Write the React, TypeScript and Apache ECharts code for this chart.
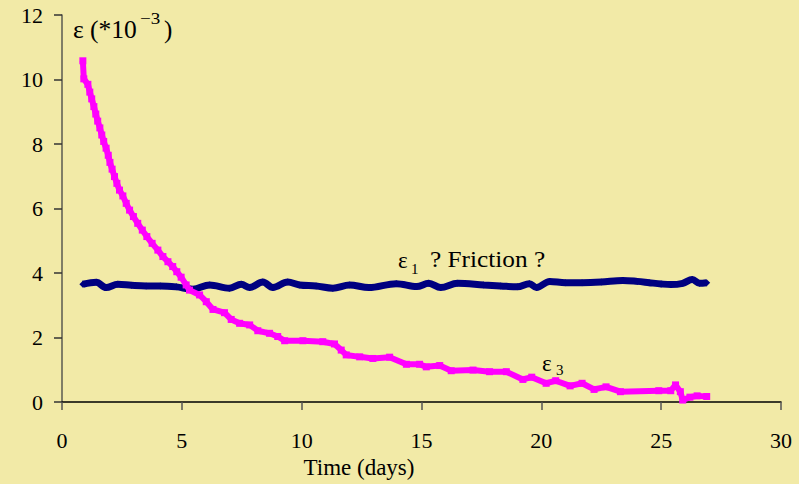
import React, { useEffect, useRef } from "react";
import * as echarts from "echarts";

// ε1 (friction) — time in days, strain ×10^-3
const eps1Days = [0.87, 1.43, 1.84, 2.33, 2.9, 3.51, 4.1, 4.77, 5.46, 6.16, 6.99, 7.48, 7.83, 8.38, 8.8, 9.42, 9.91, 10.6, 11.3, 12.0, 12.8, 13.95, 14.8, 15.3, 15.8, 16.5, 17.6, 18.3, 19.0, 19.5, 19.8, 20.35, 21.0, 21.7, 22.5, 23.4, 24.0, 24.5, 25.0, 25.4, 25.9, 26.3, 26.6, 26.9];
const eps1Values = [3.65, 3.71, 3.55, 3.65, 3.62, 3.6, 3.6, 3.57, 3.5, 3.63, 3.53, 3.65, 3.55, 3.72, 3.55, 3.72, 3.63, 3.6, 3.53, 3.63, 3.55, 3.67, 3.58, 3.68, 3.55, 3.68, 3.63, 3.6, 3.57, 3.67, 3.55, 3.74, 3.7, 3.7, 3.72, 3.77, 3.74, 3.7, 3.66, 3.64, 3.68, 3.8, 3.68, 3.7];

// ε3
const eps3Days = [0.87, 0.91, 1.08, 1.16, 1.24, 1.33, 1.41, 1.49, 1.58, 1.66, 1.74, 1.84, 1.93, 2.0, 2.09, 2.19, 2.29, 2.4, 2.54, 2.68, 2.82, 2.98, 3.16, 3.35, 3.54, 3.76, 4.0, 4.21, 4.42, 4.62, 4.79, 4.97, 5.18, 5.32, 5.74, 6.02, 6.3, 6.78, 7.06, 7.41, 7.83, 8.17, 8.66, 9.0, 9.29, 10.05, 10.88, 11.37, 11.65, 11.86, 12.42, 12.97, 13.67, 14.37, 14.92, 15.2, 15.76, 16.24, 17.15, 17.84, 18.54, 19.23, 19.6, 20.2, 20.6, 21.2, 21.7, 22.2, 22.7, 23.3, 24.9, 25.4, 25.6, 25.8, 25.9, 26.2, 26.5, 26.9];
const eps3Values = [10.58, 10.02, 9.85, 9.61, 9.4, 9.16, 8.93, 8.71, 8.5, 8.28, 8.08, 7.87, 7.65, 7.43, 7.22, 6.99, 6.78, 6.57, 6.39, 6.16, 5.95, 5.75, 5.54, 5.33, 5.13, 4.92, 4.71, 4.51, 4.35, 4.2, 4.04, 3.87, 3.63, 3.47, 3.32, 3.11, 2.87, 2.77, 2.56, 2.44, 2.39, 2.21, 2.13, 2.03, 1.9, 1.9, 1.87, 1.8, 1.61, 1.46, 1.4, 1.35, 1.39, 1.17, 1.17, 1.09, 1.13, 0.97, 0.99, 0.94, 0.94, 0.7, 0.77, 0.58, 0.66, 0.5, 0.58, 0.39, 0.47, 0.32, 0.35, 0.35, 0.53, 0.32, 0.06, 0.15, 0.19, 0.17];

const xTicks = { min: 0, max: 30, interval: 5 };
const yTicks = { min: 0, max: 12, interval: 2 };

const SERIF = "Liberation Serif";
const BG = "#F2EAA7";

export default function App() {
  const ref = useRef<HTMLDivElement>(null);

  useEffect(() => {
    if (!ref.current) return;
    const chart = echarts.init(ref.current, undefined, { renderer: "svg" });
    const s1 = eps1Days.map((d, i) => [d, eps1Values[i]]);
    const s3 = eps3Days.map((d, i) => [d, eps3Values[i]]);
    const txt = (x: number, y: number, text: string, size: number, sx = 1, align = "left") => ({
      type: "text",
      x,
      y,
      scaleX: sx,
      style: {
        text,
        fontFamily: SERIF,
        fontSize: size,
        fill: "#000",
        textAlign: align,
        textVerticalAlign: "middle",
      },
    });
    chart.setOption({
      animation: false,
      backgroundColor: BG,
      textStyle: { fontFamily: SERIF },
      grid: { left: 62, right: 18, top: 15, bottom: 82, outerBoundsMode: "none" },
      xAxis: {
        type: "value",
        min: xTicks.min,
        max: xTicks.max,
        interval: xTicks.interval,
        splitLine: { show: false },
        axisLine: { show: true, onZero: false, lineStyle: { color: "#000", width: 1.5 } },
        axisTick: { show: true, inside: false, length: 8, lineStyle: { color: "#555", width: 1.5 } },
        axisLabel: { margin: 27, color: "#000", fontFamily: SERIF, fontSize: 22 },
      },
      yAxis: {
        type: "value",
        min: yTicks.min,
        max: yTicks.max,
        interval: yTicks.interval,
        splitLine: { show: false },
        axisLine: { show: true, lineStyle: { color: "#5a5a50", width: 1.5 } },
        axisTick: { show: true, inside: false, length: 8, lineStyle: { color: "#333", width: 1.5 } },
        axisLabel: { margin: 19, color: "#000", fontFamily: SERIF, fontSize: 22 },
      },
      series: [
        {
          name: "ε1",
          type: "line",
          data: s1,
          smooth: 0.35,
          symbol: "diamond",
          symbolSize: 7,
          itemStyle: { color: "#000080" },
          lineStyle: { color: "#000080", width: 7 },
          z: 2,
        },
        {
          name: "ε3",
          type: "line",
          data: s3,
          symbol: "rect",
          symbolSize: 7,
          itemStyle: { color: "#FF00FF" },
          lineStyle: { color: "#FF00FF", width: 6 },
          z: 3,
        },
      ],
      graphic: [
        txt(73, 29, "ε (*10", 25, 1.02),
        txt(140, 18, "−3", 17, 1.12),
        txt(164, 29, ")", 25),
        txt(398, 260, "ε", 23),
        txt(411, 269, "1", 15),
        txt(430, 259, "? Friction ?", 23, 1.1),
        txt(542, 363, "ε", 23),
        txt(556, 370, "3", 15),
        txt(359, 467, "Time (days)", 23, 1, "center"),
      ],
    });
    return () => chart.dispose();
  }, []);

  return (
    <div
      ref={ref}
      style={{ position: "fixed", left: 0, top: 0, width: 799, height: 484, background: BG }}
    />
  );
}
